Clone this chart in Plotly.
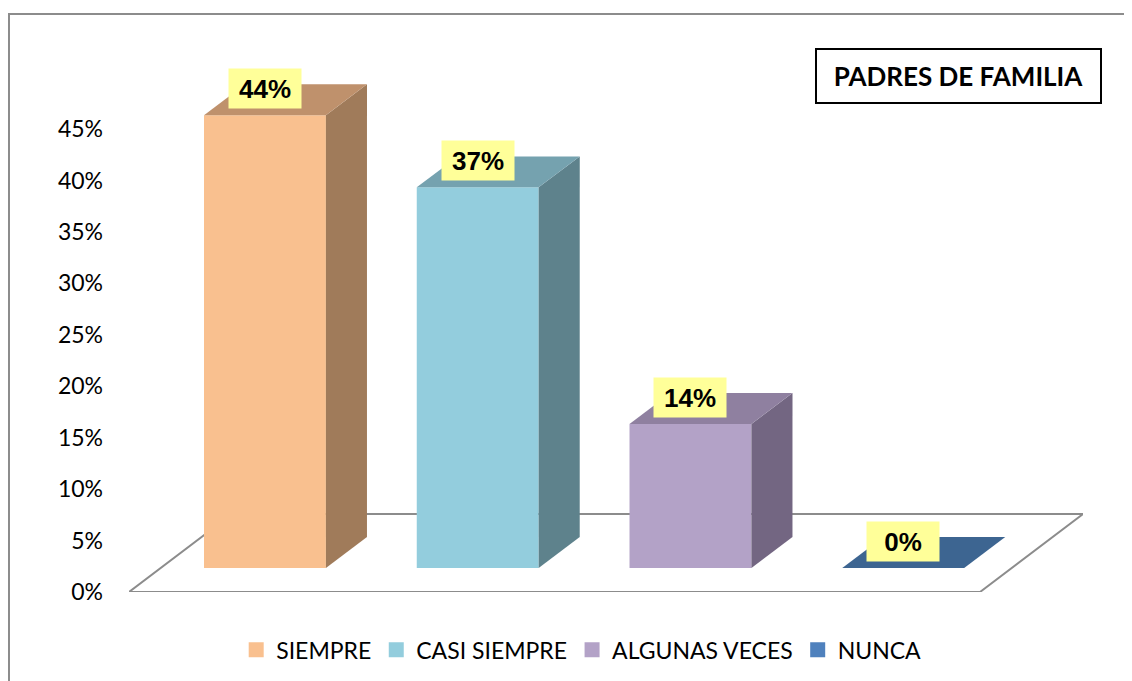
import plotly.graph_objects as go

# ---------------- data ----------------
categories = ["SIEMPRE", "CASI SIEMPRE", "ALGUNAS VECES", "NUNCA"]
values = [44, 37, 14, 0]
label_text = ["44%", "37%", "14%", "0%"]
tick_vals = [0, 5, 10, 15, 20, 25, 30, 35, 40, 45]
tick_text = ["0%", "5%", "10%", "15%", "20%", "25%", "30%", "35%", "40%", "45%"]
title_text = "PADRES DE FAMILIA"

# ---------------- styles ----------------
front_colors = ["#F9C08F", "#93CDDD", "#B3A2C7", "#4F81BD"]
side_colors = ["#A07B5A", "#5E828C", "#736682", "#3D6591"]
top_colors = ["#BF916C", "#75A2AF", "#8F80A0", "#3D6591"]
legend_colors = ["#F9C08F", "#93CDDD", "#B3A2C7", "#4F81BD"]

# 3D projection parameters (data units)
FLOOR_DX, FLOOR_DY = 0.484, 7.58      # floor depth offset
FRONT_DX, FRONT_DY = 0.149, 2.33      # bar front plane offset from floor front
BAR_DX, BAR_DY = 0.193, 3.01          # bar depth
BAR_W = 0.573
N = len(categories)

fig = go.Figure()

# front faces as bars
for i, (cat, v) in enumerate(zip(categories, values)):
    fig.add_trace(go.Bar(
        x=[i + 0.49 + FRONT_DX], y=[v], base=[FRONT_DY], width=[BAR_W],
        marker=dict(color=front_colors[i], line=dict(width=0)),
        name=cat, showlegend=False, hoverinfo="skip",
    ))

# side and top faces
for i, v in enumerate(values):
    xl = i + 0.49 + FRONT_DX - BAR_W / 2
    xr = xl + BAR_W
    y0 = FRONT_DY
    if v > 0:
        fig.add_trace(go.Scatter(
            x=[xr, xr + BAR_DX, xr + BAR_DX, xr, xr],
            y=[y0, y0 + BAR_DY, y0 + BAR_DY + v, y0 + v, y0],
            fill="toself", fillcolor=side_colors[i], mode="lines",
            line=dict(width=0, color=side_colors[i]),
            showlegend=False, hoverinfo="skip"))
    fig.add_trace(go.Scatter(
        x=[xl, xr, xr + BAR_DX, xl + BAR_DX, xl],
        y=[y0 + v, y0 + v, y0 + v + BAR_DY, y0 + v + BAR_DY, y0 + v],
        fill="toself", fillcolor=top_colors[i], mode="lines",
        line=dict(width=0, color=top_colors[i]),
        showlegend=False, hoverinfo="skip"))

# legend entries
for i, cat in enumerate(categories):
    fig.add_trace(go.Scatter(
        x=[None], y=[None], mode="markers", name=cat,
        marker=dict(symbol="square", size=15, color=legend_colors[i]),
        showlegend=True, hoverinfo="skip"))

# floor and axis line (below traces)
gray = "#8C8C8C"
shapes = [
    dict(type="path", xref="x", yref="y", layer="below",
         path=f"M0,0 L{N},0 L{N + FLOOR_DX},{FLOOR_DY} L{FLOOR_DX},{FLOOR_DY} Z",
         line=dict(color=gray, width=2)),
    dict(type="line", xref="x", yref="y", layer="below",
         x0=-0.01, x1=-0.01, y0=0, y1=tick_vals[-1],
         line=dict(color=gray, width=2)),
    # outer chart border (left + top)
    dict(type="path", xref="paper", yref="paper", layer="below",
         path="M-0.1258,-0.2 L-0.1258,1.0804 L1.2,1.0804",
         line=dict(color="#8C8C8C", width=2)),
]

annotations = []
for i, v in enumerate(values):
    annotations.append(dict(
        x=i + 0.49 + FRONT_DX, y=v + FRONT_DY + 2.6, xref="x", yref="y",
        text=f"<b>{label_text[i]}</b>", showarrow=False,
        font=dict(family="Liberation Sans", size=26, color="black"),
        bgcolor="#FFFF99", width=70, height=37, borderpad=1,
        xanchor="center", yanchor="middle"))

annotations.append(dict(
    x=0.8695, y=0.9645, xref="paper", yref="paper",
    text=f"<b>{title_text}</b>", showarrow=False,
    font=dict(family="Lato", size=26, color="black"),
    bordercolor="black", borderwidth=2, borderpad=0,
    width=283, height=52, bgcolor="white",
    xanchor="center", yanchor="middle"))

# page body has an 8px margin: shrink the figure so plot area lands where intended
fig.update_layout(
    width=1124, height=673,
    margin=dict(l=121, r=49, t=49, b=89, autoexpand=False),
    paper_bgcolor="white", plot_bgcolor="rgba(0,0,0,0)",
    barmode="overlay",
    showlegend=True,
    legend=dict(orientation="h", x=0.474, xanchor="center", y=-0.108, yanchor="middle",
                font=dict(family="Lato", size=23, color="black"),
                itemwidth=30, traceorder="normal"),
    xaxis=dict(range=[0, N + FLOOR_DX], visible=False, fixedrange=True),
    yaxis=dict(range=[0, 52], tickvals=tick_vals, ticktext=tick_text,
               showgrid=False, zeroline=False, showline=False,
               ticks="", ticklabelstandoff=25,
               tickfont=dict(family="Lato", size=23, color="black"),
               fixedrange=True),
    shapes=shapes,
    annotations=annotations,
)

fig.write_html("out.html")
